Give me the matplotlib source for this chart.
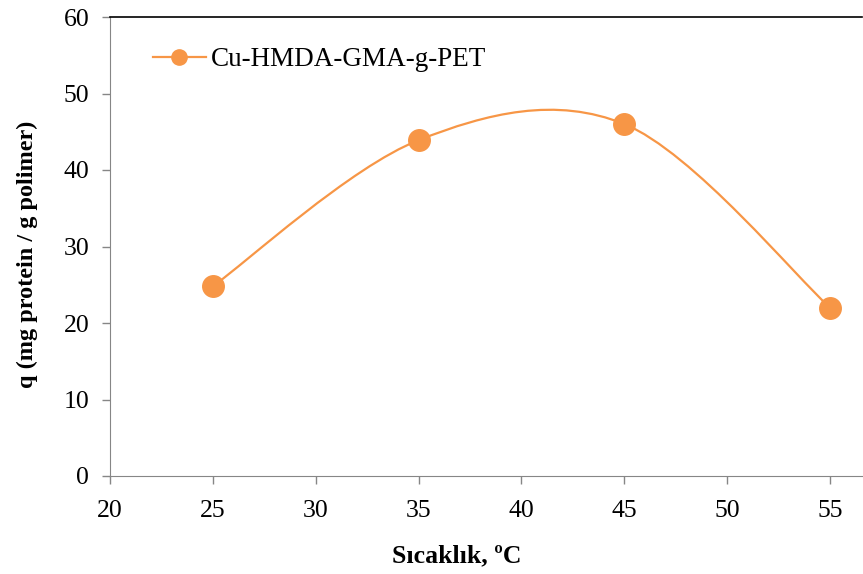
import numpy as np
import matplotlib
matplotlib.use("Agg")
import matplotlib.pyplot as plt
from matplotlib.path import Path
from matplotlib.patches import PathPatch
from matplotlib.lines import Line2D

temps = [25, 35, 45, 55]
q_values = [24.8, 43.9, 46.0, 22.0]
series_name = "Cu-HMDA-GMA-g-PET"
x_ticks = [20, 25, 30, 35, 40, 45, 50, 55]
y_ticks = [0, 10, 20, 30, 40, 50, 60]

color = "#F79646"
plt.rcParams['font.family'] = ['Liberation Serif', 'DejaVu Serif']

fig = plt.figure(figsize=(8.63, 5.74), dpi=100)
ax = fig.add_axes([110/863, 1 - 476/574, (862-110)/863, (476-17)/574])

# Excel-style smoothed line (Catmull-Rom Bezier)
x = np.array(temps, float)
y = np.array(q_values, float)
n = len(x)
verts = [(x[0], y[0])]
codes = [Path.MOVETO]
for i in range(n - 1):
    p0 = np.array([x[max(i-1, 0)], y[max(i-1, 0)]])
    p1 = np.array([x[i], y[i]])
    p2 = np.array([x[i+1], y[i+1]])
    p3 = np.array([x[min(i+2, n-1)], y[min(i+2, n-1)]])
    c1 = p1 + (p2 - p0) / 6.0
    c2 = p2 - (p3 - p1) / 6.0
    verts += [tuple(c1), tuple(c2), tuple(p2)]
    codes += [Path.CURVE4] * 3
ax.add_patch(PathPatch(Path(verts, codes), facecolor='none', edgecolor=color, lw=1.6, zorder=2))
ax.plot(temps, q_values, 'o', color=color, ms=15.5, zorder=3, linestyle='none')

handle = Line2D([], [], color=color, lw=1.6, marker='o', ms=11)

ax.set_xlim(20, 56.55)
ax.set_ylim(0, 60)
ax.set_xticks(x_ticks)
ax.set_yticks(y_ticks)
ax.tick_params(axis='both', direction='out', length=6, color='#868686', labelsize=18.5, width=1)
ax.tick_params(axis='x', pad=11)
ax.tick_params(axis='y', pad=9)
for s in ['left', 'bottom']:
    ax.spines[s].set_color('#868686')
ax.spines['top'].set_color('black')
ax.spines['top'].set_linewidth(1.2)
ax.spines['right'].set_visible(False)

fig.text(457/863, 1 - 556/574, 'Sıcaklık, ºC', fontsize=18.5, fontweight='bold', ha='center', va='center')
fig.text(27/863, 1 - 254/574, 'q (mg protein / g polimer)', fontsize=17.5, fontweight='bold',
         ha='center', va='center', rotation=90)

leg = ax.legend([handle], [series_name], loc='center left',
                bbox_to_anchor=((153-110)/752, 1 - (60-17)/459), frameon=False, fontsize=19.5,
                handlelength=1.95, handletextpad=0.2, borderaxespad=0, borderpad=0)

fig.savefig('out.png', dpi=100)
